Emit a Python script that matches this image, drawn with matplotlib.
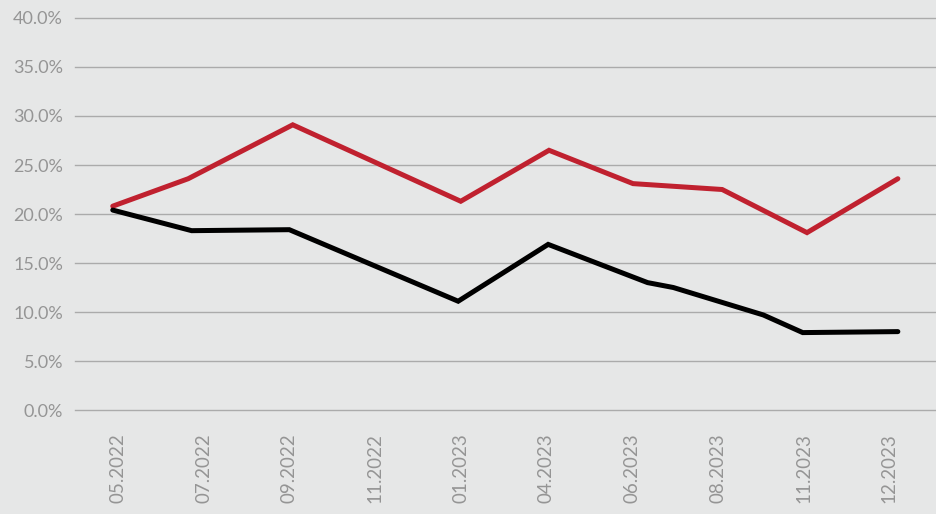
import matplotlib.pyplot as plt

# tick labels (evenly spaced on the axis)
labels = ['05.2022', '07.2022', '09.2022', '11.2022', '01.2023',
          '04.2023', '06.2023', '08.2023', '11.2023', '12.2023']

# red series: positions along the label axis and values in %
red_x = [-0.06, 0.82, 2.04, 4.0, 5.03, 6.01, 7.05, 8.04, 9.1]
red_y = [20.8, 23.6, 29.1, 21.3, 26.5, 23.1, 22.5, 18.1, 23.6]

# black series
black_x = [-0.06, 0.86, 2.0, 3.97, 5.02, 6.18, 6.48, 7.53, 7.99, 9.1]
black_y = [20.4, 18.3, 18.4, 11.1, 16.9, 13.0, 12.5, 9.7, 7.9, 8.0]

bg = '#e6e7e7'
txt = '#959595'

plt.rcParams['font.family'] = ['Lato', 'DejaVu Sans']

fig = plt.figure(figsize=(9.36, 5.14), dpi=100, facecolor=bg)
ax = fig.add_axes([0.080, 0.2023, 0.920, 0.7627])
ax.set_facecolor(bg)

ax.plot(red_x, red_y, color='#c0212f', lw=3.6, solid_capstyle='round', solid_joinstyle='miter', zorder=3)
ax.plot(black_x, black_y, color='#000000', lw=3.6, solid_capstyle='round', solid_joinstyle='miter', zorder=3)

ax.set_ylim(0, 40)
ax.set_xlim(-0.502, 9.545)
ax.set_yticks(range(0, 41, 5))
ax.set_yticklabels(['{:.1f}%'.format(v) for v in range(0, 41, 5)])
ax.set_xticks(range(len(labels)))
ax.set_xticklabels(labels, rotation=90)

ax.grid(axis='y', color='#ababab', lw=1.0)
for gl in ax.get_ygridlines():
    gl.set_clip_on(False)
ax.set_axisbelow(True)
for s in ax.spines.values():
    s.set_visible(False)
ax.tick_params(axis='y', length=0, pad=8.5, labelsize=13, labelcolor=txt)
ax.tick_params(axis='x', length=0, pad=16.5, labelsize=13.5, labelcolor=txt)

fig.savefig('out.png', dpi=100, facecolor=bg)
